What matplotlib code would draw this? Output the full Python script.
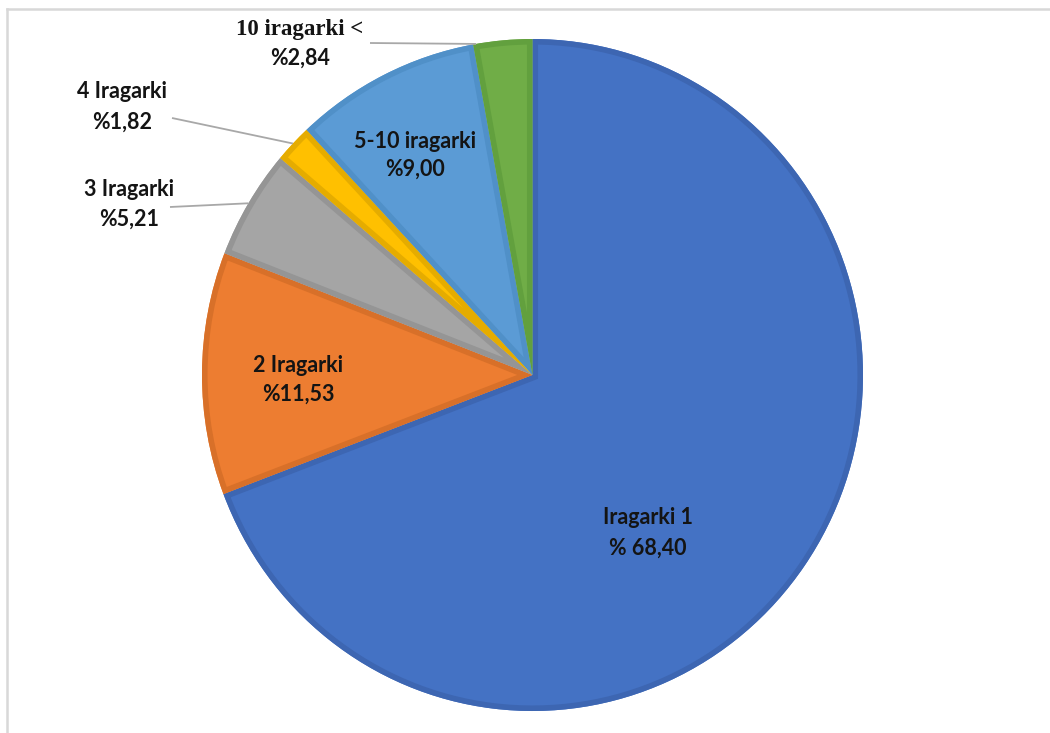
import matplotlib
matplotlib.use("Agg")
import matplotlib.pyplot as plt
from matplotlib.patches import Wedge
from matplotlib.lines import Line2D
import numpy as np

# Share of advertisers by number of ads placed
categories = ["Iragarki 1", "2 Iragarki", "3 Iragarki", "4 Iragarki",
              "5-10 iragarki", "10 iragarki <"]
shares = [68.40, 11.53, 5.21, 1.82, 9.00, 2.84]
share_labels = ["% 68,40", "%11,53", "%5,21", "%1,82", "%9,00", "%2,84"]

fills = ["#4472C4", "#ED7D31", "#A5A5A5", "#FFC000", "#5B9BD5", "#70AD47"]
rims = ["#3D66B2", "#D87029", "#959595", "#E5AC00", "#5090C8", "#62A03E"]

W, H = 1050, 733
CX, CY = 532.5, 375.0      # pie centre in pixels
RX, RY = 330.5, 336.0      # pie radii in pixels

SANS = ["Lato", "DejaVu Sans"]
SERIF = ["Liberation Serif", "DejaVu Serif"]
TXT = "#141414"
LEADER = "#a8a8a8"
FS = 15.5


def px(x, y):
    """Pixel position (origin top-left) -> data coordinates."""
    return (x - CX) / RX, (CY - y) / RY


fig = plt.figure(figsize=(W / 100, H / 100), dpi=100)
fig.patch.set_facecolor("white")
ax = fig.add_axes([0, 0, 1, 1])

wedges, _ = ax.pie(shares, colors=fills, startangle=90, counterclock=False,
                   radius=1.0, wedgeprops=dict(linewidth=0))
ax.set_aspect("auto")
ax.set_xlim(-CX / RX, (W - CX) / RX)
ax.set_ylim(-(H - CY) / RY, CY / RY)
ax.axis("off")

# darker bevel along the inside of each slice
for w, rc in zip(wedges, rims):
    rim = Wedge(w.center, w.r, w.theta1, w.theta2, fill=False,
                edgecolor=rc, linewidth=8, joinstyle="miter")
    ax.add_patch(rim)
    rim.set_clip_path(w)

# labels inside the slices
inside = {0: (648, 518, 548), 1: (298, 366, 394), 4: (415, 141, 169)}
for i, (x, y1, y2) in inside.items():
    ax.text(*px(x, y1), categories[i], ha="center", va="center",
            fontsize=FS, fontweight="bold", family=SANS, color=TXT)
    ax.text(*px(x, y2), share_labels[i], ha="center", va="center",
            fontsize=FS, fontweight="bold", family=SANS, color=TXT)

# labels outside with leader lines to the rim
outside = {
    2: dict(pos=(129, 189, 219), start=(170, 207), frac=0.5),
    3: dict(pos=(122, 92, 122), start=(172, 118), frac=0.5),
}
for i, o in outside.items():
    x, y1, y2 = o["pos"]
    ax.text(*px(x, y1), categories[i], ha="center", va="center",
            fontsize=FS, fontweight="bold", family=SANS, color=TXT)
    ax.text(*px(x, y2), share_labels[i], ha="center", va="center",
            fontsize=FS, fontweight="bold", family=SANS, color=TXT)
    w = wedges[i]
    ang = np.deg2rad(w.theta1 + o["frac"] * (w.theta2 - w.theta1))
    s = px(*o["start"])
    ax.plot([s[0], np.cos(ang)], [s[1], np.sin(ang)],
            color=LEADER, lw=1.3, solid_capstyle="butt")

# the last category uses a serif heading
w = wedges[5]
ax.text(*px(300, 29), categories[5], ha="center", va="center",
        fontsize=16.5, fontweight="bold", family=SERIF, color=TXT)
ax.text(*px(300, 58), share_labels[5], ha="center", va="center",
        fontsize=FS, fontweight="bold", family=SANS, color=TXT)
ang = np.deg2rad(w.theta1 + 0.95 * (w.theta2 - w.theta1))
s = px(370, 43)
ax.plot([s[0], np.cos(ang)], [s[1], np.sin(ang)], color=LEADER, lw=1.3,
        solid_capstyle="butt")

# thin chart frame along top and left
fig.add_artist(Line2D([7 / W, 1], [1 - 9 / H, 1 - 9 / H], color="#d8d8d8",
                      lw=1.8, transform=fig.transFigure))
fig.add_artist(Line2D([7 / W, 7 / W], [0, 1 - 9 / H], color="#d8d8d8",
                      lw=1.8, transform=fig.transFigure))

fig.savefig("out.png", dpi=100, facecolor="white")
